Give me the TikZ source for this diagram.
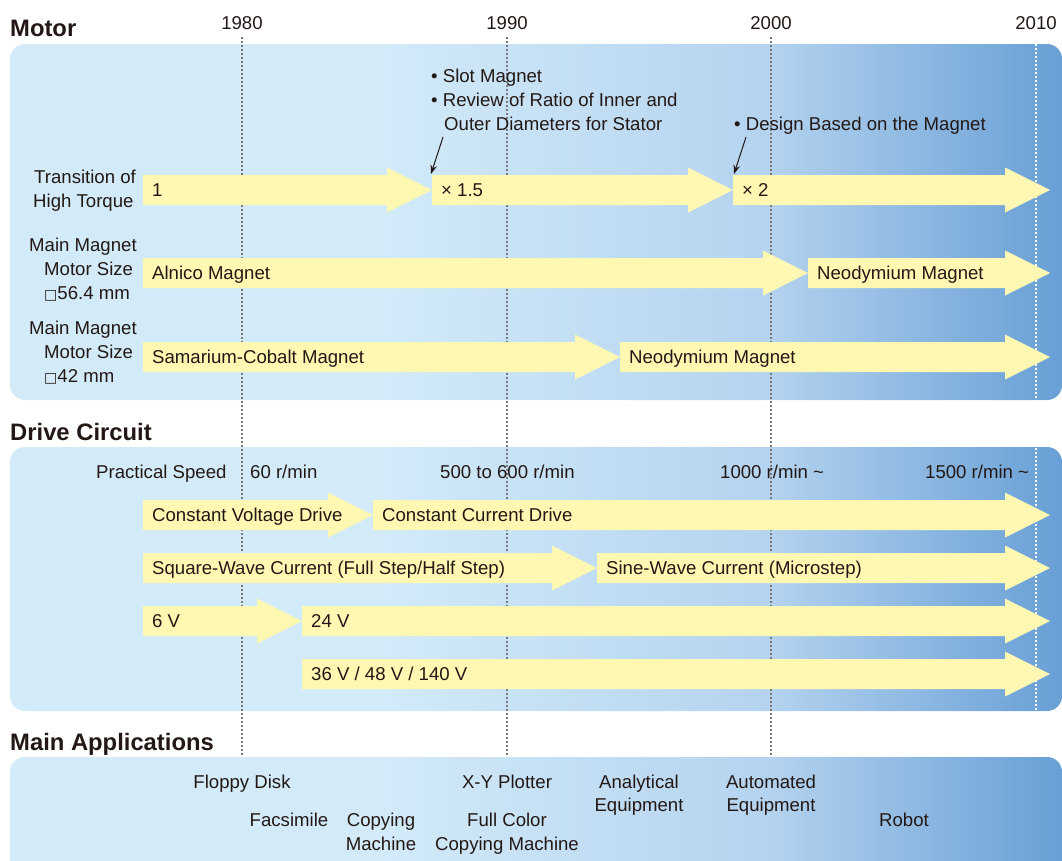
\documentclass[tikz,border=0pt]{standalone}
\usepackage{fontspec}
\setmainfont{Liberation Sans}
\newfontfamily\symf{DejaVu Sans}
\usetikzlibrary{arrows.meta}
\definecolor{txt}{RGB}{35,24,21}
\definecolor{ylw}{RGB}{255,248,179}
\definecolor{pA}{RGB}{211,235,249}
\definecolor{pB}{RGB}{180,211,239}
\definecolor{pC}{RGB}{104,159,213}
\definecolor{dotgrey}{RGB}{120,120,120}
\pgfdeclarehorizontalshading{panelshade}{100bp}{color(0bp)=(pA); color(25bp)=(pA); color(42.5bp)=(pA); color(61bp)=(pB); color(75bp)=(pC); color(100bp)=(pC)}
\newcommand\nf{\fontsize{18.6}{24}\selectfont}
\newcommand\tf{\fontsize{23.8}{28}\selectfont\bfseries}
\newcommand\sq{{\symf\fontsize{14}{14}\selectfont □}}
\newcommand\yarr[5]{%
  \fill[ylw] (#2,{#4-15}) -- ({#3-45},{#4-15}) -- ({#3-45},{#4-22.5}) -- (#3,#4)
    -- ({#3-45},{#4+22.5}) -- ({#3-45},{#4+15}) -- (#2,{#4+15}) -- cycle;
  \node[lbl] (#1) at ({#2+9},{#4+6.6}) {#5};}
\begin{document}
\begin{tikzpicture}[x=1pt,y=-1pt,
  lbl/.style={font=\nf, text=txt, inner sep=0pt, anchor=base west},
  lblc/.style={font=\nf, text=txt, inner sep=0pt, anchor=base},
  ttl/.style={font=\tf, text=txt, inner sep=0pt, anchor=base west},
  panel/.style={shading=panelshade, rounded corners=15pt},
  dotln/.style={draw=dotgrey, line width=1.1pt, dash pattern=on 2pt off 2pt},
  whiteln/.style={draw=white, line width=1.1pt, dash pattern=on 2pt off 2pt},
  annot/.style={draw=txt, line width=1pt, -{Stealth[length=9pt,width=6.5pt]}}]
\useasboundingbox (0,0) rectangle (1062,860);
% panels
\shade[panel] (10,44) rectangle (1062,400);
\shade[panel] (10,447) rectangle (1062,711);
% year labels
\node[lblc] (y80) at (242,29) {1980};
\node[lblc] (y90) at (507,29) {1990};
\node[lblc] (y00) at (771,29) {2000};
\node[lblc] (y10) at (1036,29) {2010};
% dotted year lines
\coordinate (l80a) at (242,37); \coordinate (l80b) at (242,757);
\coordinate (l90a) at (507,37); \coordinate (l90b) at (507,757);
\coordinate (l00a) at (771,37); \coordinate (l00b) at (771,757);
\coordinate (l10a) at (1036,44); \coordinate (l10b) at (1036,711);
\draw[dotln] (l80a) -- (l80b);
\draw[dotln] (l90a) -- (l90b);
\draw[dotln] (l00a) -- (l00b);
\draw[whiteln] (l10a) -- (l10b);
% applications panel
\shade[panel] (10,757) rectangle (1062,880);
% titles
\node[ttl] (tmotor) at (10,36) {Motor};
\node[ttl] (tdrive) at (10,440) {Drive Circuit};
\node[ttl] (tapps) at (10,750) {Main Applications};
% motor rows
\yarr{tq1}{143}{432}{190}{1}
\yarr{tq2}{432}{733}{190}{× 1.5}
\yarr{tq3}{733}{1050}{190}{× 2}
\yarr{mg1}{143}{808}{273}{Alnico Magnet}
\yarr{mg2}{808}{1050}{273}{Neodymium Magnet}
\yarr{sc1}{143}{620}{357}{Samarium-Cobalt Magnet}
\yarr{sc2}{620}{1050}{357}{Neodymium Magnet}
% motor side labels
\node[lbl] (ht1) at (34,183) {Transition of};
\node[lbl] (ht2) at (33,207) {High Torque};
\node[lbl] (ma1) at (29,251) {Main Magnet};
\node[lbl] (ma2) at (44,275) {Motor Size};
\node[lbl] (ma3) at (44,299) {\sq56.4 mm};
\node[lbl] (mb1) at (29,334) {Main Magnet};
\node[lbl] (mb2) at (44,358) {Motor Size};
\node[lbl] (mb3) at (44,382) {\sq42 mm};
% annotations
\node[lbl] (an1) at (431,82.5) {• Slot Magnet};
\node[lbl] (an2) at (431,106.5) {• Review of Ratio of Inner and};
\node[lbl] (an3) at (444,130.5) {Outer Diameters for Stator};
\node[lbl] (an4) at (734,130) {• Design Based on the Magnet};
\coordinate (a1s) at (443,137); \coordinate (a1e) at (431,174);
\coordinate (a2s) at (746,137); \coordinate (a2e) at (734,174);
\draw[annot] (a1s) -- (a1e);
\draw[annot] (a2s) -- (a2e);
% drive circuit
\node[lbl] (ps) at (96,478) {Practical Speed};
\node[lbl] (s60) at (250,478) {60 r/min};
\node[lbl] (s500) at (440,478) {500 to 600 r/min};
\node[lbl] (s1000) at (720,478) {1000 r/min \char`~};
\node[lbl] (s1500) at (925,478) {1500 r/min \char`~};
\yarr{cv}{143}{373}{515}{Constant Voltage Drive}
\yarr{cc}{373}{1050}{515}{Constant Current Drive}
\yarr{sqw}{143}{597}{568}{Square-Wave Current (Full Step/Half Step)}
\yarr{snw}{597}{1050}{568}{Sine-Wave Current (Microstep)}
\yarr{v6}{143}{302}{621}{6 V}
\yarr{v24}{302}{1050}{621}{24 V}
\yarr{v36}{302}{1050}{674}{36 V / 48 V / 140 V}
% applications
\node[lblc] (fd) at (242,788.5) {Floppy Disk};
\node[lblc] (fx) at (289,826) {Facsimile};
\node[lblc] (cm1) at (381,826.5) {Copying};
\node[lblc] (cm2) at (381,850) {Machine};
\node[lblc] (xy) at (507,788.5) {X-Y Plotter};
\node[lblc] (fc1) at (507,826.5) {Full Color};
\node[lblc] (fc2) at (507,850) {Copying Machine};
\node[lblc] (ae1) at (639,788.5) {Analytical};
\node[lblc] (ae2) at (639,811.5) {Equipment};
\node[lblc] (au1) at (771,788.5) {Automated};
\node[lblc] (au2) at (771,811.5) {Equipment};
\node[lblc] (rb) at (904,826) {Robot};
\end{tikzpicture}
\end{document}
